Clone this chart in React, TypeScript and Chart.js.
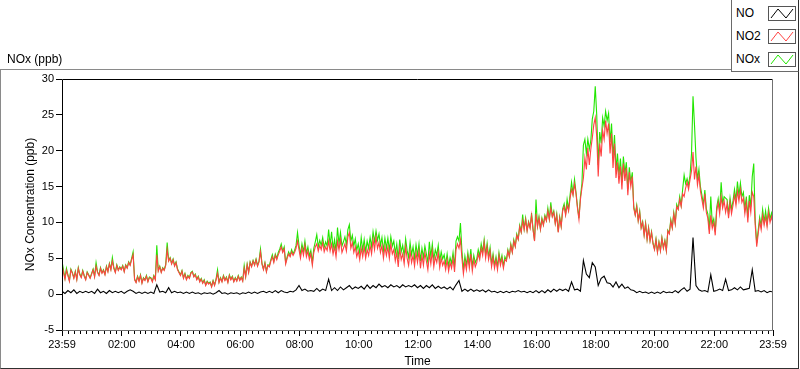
import React, { useEffect, useRef } from "react";
import { Chart, registerables } from "chart.js";

Chart.register(...registerables);

// ---- axis definitions (minutes since 23:59 of the previous day) ----
const X_TICK_MIN = [0, 121, 241, 361, 481, 601, 721, 841, 961, 1081, 1201, 1321, 1440];
const X_TICK_LABELS = ["23:59", "02:00", "04:00", "06:00", "08:00", "10:00", "12:00", "14:00", "16:00", "18:00", "20:00", "22:00", "23:59"];
const X_MINOR_STEP_MIN = 12;
const Y_MIN = -5;
const Y_MAX = 30;
const Y_STEP = 5;

// ---- NO: 6-minute samples ----
const NO_STEP_MIN = 6;
const NO_PPB = [
  0.4, 0.1, 0.5, 0.2, 0.6, 0.1, 0.4, 0.2, 0.4, 0.2,
  0.4, 0.1, 0.7, 0.2, 0.4, 0.1, 0.5, 0.2, 0.4, 0.2,
  0.4, 0.1, 0.4, 0.6, 0.4, 0.1, 0.3, 0.1, 0.3, 0.1,
  0.3, 0.1, 1.3, 0.3, 0.4, 0.2, 0.9, 0.2, 0.4, 0.2,
  0.3, 0.1, 0.3, 0.1, 0.3, 0.1, 0.2, 0.0, 0.2, 0.1,
  0.2, 0.0, 0.2, 0.5, 0.1, 0.2, 0.0, 0.2, 0.1, 0.2,
  0.0, 0.2, 0.1, 0.3, 0.1, 0.3, 0.1, 0.3, 0.4, 0.2,
  0.4, 0.2, 0.5, 0.2, 0.5, 0.3, 0.2, 0.4, 0.3, 0.6,
  1.2, 0.5, 0.7, 0.4, 0.5, 0.4, 0.8, 0.4, 0.7, 0.5,
  2.1, 0.5, 0.9, 0.5, 1.0, 0.6, 0.9, 1.2, 0.7, 1.0,
  0.8, 1.1, 0.7, 1.3, 0.8, 1.2, 0.9, 1.4, 1.0, 1.2,
  0.9, 1.3, 1.0, 1.2, 0.9, 1.3, 1.0, 1.2, 1.0, 1.3,
  0.9, 1.2, 0.8, 1.2, 0.9, 1.3, 0.8, 1.1, 0.8, 1.0,
  0.7, 1.0, 0.6, 1.3, 1.9, 0.4, 0.7, 0.4, 0.7, 0.4,
  0.6, 0.4, 0.6, 0.3, 0.6, 0.3, 0.4, 0.2, 0.4, 0.2,
  0.4, 0.2, 0.4, 0.3, 0.5, 0.3, 0.4, 0.2, 0.4, 0.2,
  0.5, 0.2, 0.5, 0.2, 0.6, 0.3, 0.7, 0.4, 0.7, 0.5,
  0.7, 0.4, 1.7, 0.6, 0.7, 0.4, 4.7, 2.8, 2.3, 4.4,
  3.8, 1.2, 2.2, 2.5, 1.6, 1.5, 1.0, 1.7, 0.9, 1.4,
  0.8, 1.0, 0.6, 0.5, 0.2, 0.4, 0.2, 0.3, 0.1, 0.3,
  0.1, 0.3, 0.1, 0.4, 0.2, 0.3, 0.2, 0.5, 0.2, 0.6,
  0.9, 0.4, 0.7, 7.9, 1.2, 0.6, 0.4, 0.5, 0.3, 2.7,
  0.4, 0.5, 0.7, 0.5, 2.1, 0.5, 0.6, 0.9, 0.6, 1.0,
  0.6, 0.7, 0.8, 3.4, 0.4, 0.5, 0.3, 0.5, 0.2, 0.4, 0.3,
];

// ---- NO2 and NOx: 3-minute samples (20 per hour) ----
const NO2_STEP_MIN = 3;
const NO2_PPB = [
  4.2, 3.0, 2.1, 3.3, 2.6, 1.8, 3.4, 2.9, 2.2, 3.1, 2.0, 3.6, 2.7, 2.3, 3.2, 2.5, 2.0, 3.0, 2.6, 2.2,
  2.8, 3.4, 2.4, 3.9, 3.0, 2.6, 3.6, 2.9, 3.3, 2.7, 3.8, 3.1, 4.2, 3.4, 4.6, 3.6, 3.0, 4.0, 3.3, 3.7,
  3.4, 3.9, 3.1, 4.0, 3.6, 4.4, 4.0, 4.8, 5.5, 2.0, 1.6, 2.4, 1.8, 2.6, 1.5, 2.2, 1.9, 2.5, 1.7, 2.3,
  2.2, 1.7, 2.5, 2.0, 5.5, 3.2, 3.8, 3.0, 3.6, 3.3, 4.0, 6.2, 4.6, 5.0, 4.2, 4.8, 3.9, 4.4, 3.4, 3.0,
  2.6, 3.2, 2.2, 2.8, 2.0, 2.5, 2.2, 2.9, 3.1, 2.4, 2.7, 2.0, 2.4, 1.7, 2.1, 1.5, 1.9, 1.2, 1.7, 1.4,
  1.6, 1.0, 1.8, 1.2, 2.0, 2.9, 1.6, 2.2, 1.7, 2.5, 1.9, 2.3, 1.6, 2.6, 2.0, 2.4, 1.7, 2.2, 1.8, 2.5,
  1.9, 2.3, 1.8, 3.6, 2.4, 4.1, 3.0, 4.4, 3.8, 4.6, 4.0, 4.8, 3.9, 4.5, 5.9, 4.2, 3.4, 4.3, 3.1, 4.0,
  3.8, 4.6, 5.2, 4.4, 5.4, 4.8, 5.5, 6.0, 6.6, 5.8, 6.3, 4.2, 5.0, 5.6, 5.2, 5.9, 5.4, 5.8, 6.4, 7.4,
  6.2, 5.0, 6.4, 5.4, 6.8, 5.2, 6.0, 4.8, 5.6, 4.0, 5.8, 6.6, 7.0, 6.0, 6.8, 6.2, 7.2, 5.9, 6.6, 6.1,
  7.4, 6.0, 7.0, 5.6, 6.6, 5.2, 7.4, 6.2, 7.6, 5.8, 6.4, 7.0, 6.0, 8.0, 8.6, 6.4, 7.2, 5.8, 6.6, 5.2,
  6.0, 4.8, 6.4, 5.2, 6.6, 5.0, 6.2, 5.4, 6.8, 5.6, 7.6, 6.2, 8.0, 6.4, 7.2, 5.8, 6.8, 5.0, 6.6, 5.4,
  6.6, 5.0, 7.0, 5.6, 6.2, 4.6, 5.8, 3.8, 6.4, 4.8, 5.6, 4.2, 6.6, 5.0, 4.0, 6.0, 4.4, 5.4, 3.9, 5.8,
  4.4, 6.0, 3.6, 5.4, 4.0, 5.8, 4.6, 3.4, 5.6, 4.2, 6.0, 3.8, 5.2, 4.4, 5.8, 3.7, 5.0, 4.0, 4.6, 3.4,
  4.8, 3.2, 4.4, 3.6, 5.0, 3.1, 6.2, 7.0, 6.4, 7.6, 5.0, 2.8, 4.6, 3.4, 5.2, 3.6, 5.6, 3.2, 4.8, 3.8,
  4.4, 5.6, 4.8, 6.4, 5.4, 7.2, 5.0, 6.6, 4.8, 6.0, 3.8, 5.2, 3.6, 4.8, 3.4, 5.4, 4.0, 5.0, 3.6, 4.8,
  4.6, 6.0, 5.2, 6.8, 5.8, 7.4, 6.6, 8.2, 7.6, 9.4, 8.6, 10.2, 9.0, 10.4, 8.8, 10.0, 9.2, 11.0, 9.0, 7.4,
  11.2, 9.4, 10.6, 9.0, 10.4, 9.6, 10.8, 10.2, 11.6, 10.4, 12.0, 10.8, 11.4, 9.8, 11.0, 8.6, 10.6, 9.4, 11.6, 12.2,
  11.0, 12.4, 11.6, 13.4, 14.6, 13.8, 15.4, 14.0, 12.0, 10.4, 13.2, 14.8, 16.2, 19.0, 17.4, 20.4, 18.0, 20.2, 21.8, 23.6,
  24.6, 22.0, 16.4, 21.0, 19.2, 22.8, 21.6, 24.2, 22.4, 23.8, 19.6, 22.4, 17.6, 21.0, 16.2, 18.4, 15.4, 17.8, 14.6, 18.2,
  15.8, 17.6, 13.8, 17.0, 15.0, 16.4, 12.0, 11.0, 12.2, 10.2, 11.4, 9.2, 10.0, 8.2, 9.8, 7.6, 9.2, 7.4, 8.6, 7.0,
  6.2, 7.6, 5.8, 7.2, 6.0, 7.8, 6.4, 7.4, 6.0, 8.8, 8.4, 10.2, 9.2, 11.2, 9.8, 12.2, 11.8, 13.2, 12.2, 14.0,
  13.6, 14.8, 15.6, 14.6, 16.0, 17.2, 19.8, 16.0, 17.8, 15.2, 16.6, 14.4, 13.2, 12.0, 14.0, 11.4, 10.6, 8.4, 11.0, 9.2,
  10.0, 8.2, 11.6, 12.8, 11.2, 13.6, 12.0, 13.0, 11.4, 12.6, 10.6, 12.8, 11.2, 12.4, 13.8, 12.4, 14.4, 13.0, 14.6, 12.8,
  13.4, 11.2, 12.8, 10.0, 13.0, 11.4, 14.2, 13.6, 9.6, 6.6, 8.4, 10.2, 9.0, 11.0, 9.6, 10.8, 9.4, 11.4, 10.0, 10.8, 9.8,
];

const NOX_STEP_MIN = 3;
const NOX_PPB = [
  4.6, 3.4, 2.2, 3.6, 2.7, 1.9, 3.5, 3.0, 2.3, 3.2, 2.1, 3.7, 2.8, 2.4, 3.3, 2.6, 2.1, 3.1, 2.7, 2.3,
  2.9, 3.5, 2.5, 4.4, 3.1, 2.7, 3.7, 3.0, 3.4, 2.8, 3.9, 3.2, 4.3, 3.5, 5.1, 3.7, 3.1, 4.1, 3.4, 3.8,
  3.5, 4.0, 3.2, 4.1, 3.7, 4.5, 4.1, 5.0, 5.9, 2.1, 1.7, 2.5, 1.9, 2.7, 1.6, 2.3, 2.0, 2.6, 1.8, 2.4,
  2.3, 1.8, 2.6, 2.1, 6.8, 3.3, 3.9, 3.1, 3.7, 3.4, 4.1, 7.2, 4.7, 5.1, 4.3, 4.9, 4.0, 4.5, 3.5, 3.1,
  2.7, 3.3, 2.3, 2.9, 2.1, 2.6, 2.3, 3.0, 3.2, 2.5, 2.8, 2.1, 2.5, 1.8, 2.2, 1.6, 2.0, 1.3, 1.8, 1.5,
  1.7, 1.1, 1.9, 1.3, 2.1, 3.4, 1.7, 2.3, 1.8, 2.6, 2.0, 2.4, 1.7, 2.7, 2.1, 2.5, 1.8, 2.3, 1.9, 2.6,
  2.0, 2.4, 1.9, 4.0, 2.5, 4.2, 3.1, 4.5, 3.9, 4.7, 4.1, 4.9, 4.0, 4.6, 6.3, 4.3, 3.5, 4.4, 3.2, 4.1,
  4.0, 4.8, 5.5, 4.6, 5.6, 5.0, 5.8, 6.3, 7.0, 6.0, 6.6, 4.4, 5.2, 5.9, 5.4, 6.2, 5.6, 6.1, 6.8, 8.6,
  6.8, 5.5, 7.0, 5.9, 7.4, 5.7, 6.6, 5.3, 6.1, 4.4, 6.4, 7.3, 8.3, 6.6, 7.5, 6.8, 7.9, 6.5, 7.3, 6.7,
  9.0, 6.8, 8.7, 6.3, 7.6, 6.0, 9.3, 7.0, 8.6, 6.7, 7.3, 8.0, 6.9, 9.0, 9.7, 7.4, 8.2, 6.7, 7.7, 6.1,
  7.0, 5.7, 7.9, 6.1, 7.6, 5.9, 7.4, 6.4, 7.9, 6.6, 8.7, 7.3, 8.8, 7.5, 8.4, 6.8, 7.9, 6.0, 7.8, 6.4,
  7.8, 6.1, 8.0, 6.7, 7.4, 5.7, 7.0, 4.9, 7.6, 5.9, 6.8, 5.3, 7.7, 6.1, 5.1, 7.2, 5.5, 6.6, 5.0, 6.9,
  5.4, 7.0, 4.6, 6.4, 5.1, 6.7, 5.6, 4.4, 7.3, 5.2, 7.0, 4.8, 6.2, 5.4, 6.8, 4.6, 5.9, 4.9, 5.5, 4.2,
  5.6, 3.9, 5.1, 4.3, 5.8, 3.8, 7.4, 8.0, 7.4, 9.9, 6.0, 3.4, 5.3, 4.0, 5.8, 4.2, 6.3, 3.8, 5.4, 4.4,
  4.9, 6.2, 5.3, 7.0, 5.9, 7.6, 5.5, 7.1, 5.2, 6.5, 4.2, 5.6, 4.0, 5.2, 3.8, 5.8, 4.4, 5.4, 3.9, 5.2,
  4.7, 6.2, 5.3, 7.0, 5.9, 7.6, 6.7, 8.4, 7.7, 9.6, 8.7, 11.1, 9.1, 10.6, 8.9, 10.1, 9.3, 11.3, 9.1, 7.5,
  13.2, 9.5, 10.8, 9.1, 10.6, 9.7, 11.0, 10.3, 12.0, 10.5, 12.8, 10.9, 11.6, 9.9, 11.2, 8.7, 10.8, 9.5, 11.9, 12.6,
  11.2, 13.2, 11.8, 13.8, 15.6, 14.0, 16.0, 14.2, 12.2, 10.6, 13.6, 15.4, 20.8, 21.6, 19.6, 21.6, 20.2, 21.4, 24.4, 25.5,
  29.0, 25.0, 18.0, 22.6, 21.0, 24.6, 23.4, 25.5, 24.2, 25.2, 21.2, 23.8, 19.0, 22.2, 17.4, 19.6, 16.6, 18.9, 15.6, 19.2,
  16.8, 18.4, 14.6, 17.7, 15.6, 17.0, 12.2, 11.1, 12.4, 10.3, 11.6, 9.3, 10.1, 8.3, 9.9, 7.7, 9.3, 7.5, 8.7, 7.1,
  6.3, 7.7, 5.9, 7.3, 6.1, 7.9, 6.5, 7.5, 6.1, 8.9, 8.5, 10.4, 9.3, 11.4, 9.9, 12.5, 11.9, 13.6, 12.4, 14.6,
  16.6, 15.4, 16.1, 15.2, 16.6, 19.6, 27.6, 23.6, 19.0, 16.0, 17.4, 15.0, 13.8, 12.5, 14.5, 11.9, 11.2, 9.0, 13.6, 9.8,
  10.5, 8.7, 12.1, 13.3, 11.7, 15.6, 12.6, 13.6, 13.4, 13.2, 11.1, 13.4, 11.8, 13.0, 14.6, 13.1, 15.7, 13.7, 15.5, 13.6,
  14.2, 11.9, 13.6, 10.7, 13.8, 12.2, 16.4, 18.2, 10.2, 7.1, 8.9, 10.7, 9.5, 11.8, 10.1, 11.6, 9.9, 12.0, 10.5, 11.3, 10.2,
];

const SERIES = [
  { label: "NO", values: NO_PPB, step: NO_STEP_MIN, color: "#000000" },
  { label: "NO2", values: NO2_PPB, step: NO2_STEP_MIN, color: "#ff4242" },
  { label: "NOx", values: NOX_PPB, step: NOX_STEP_MIN, color: "#22e600" },
];

const FONT = '"Liberation Sans", Arial, sans-serif';

const labviewFrame = {
  id: "labviewFrame",
  afterDraw(chart: any) {
    const { ctx, chartArea: a, scales } = chart;
    const xs = scales.x;
    ctx.save();
    ctx.lineWidth = 1;
    // minor ticks on the time axis
    ctx.strokeStyle = "#000";
    ctx.beginPath();
    for (let m = X_TICK_MIN[0] + 1 + X_MINOR_STEP_MIN; m < X_TICK_MIN[X_TICK_MIN.length - 1]; m += X_MINOR_STEP_MIN) {
      if (X_TICK_MIN.includes(m)) continue;
      const px = Math.round(xs.getPixelForValue(m)) + 0.5;
      ctx.moveTo(px, a.bottom);
      ctx.lineTo(px, a.bottom + 4);
    }
    ctx.stroke();
    // plot frame
    const l = Math.round(a.left) + 0.5;
    const r = Math.round(a.right) - 0.5;
    const t = Math.round(a.top) + 0.5;
    const b = Math.round(a.bottom) + 0.5;
    ctx.strokeStyle = "#000";
    ctx.beginPath();
    ctx.moveTo(l, b);
    ctx.lineTo(l, t);
    ctx.lineTo(r, t);
    ctx.stroke();
    ctx.strokeStyle = "#707070";
    ctx.beginPath();
    ctx.moveTo(r, t);
    ctx.lineTo(r, b);
    ctx.lineTo(l, b);
    ctx.stroke();
    ctx.restore();
  },
};

function Swatch({ color }: { color: string }) {
  return (
    <svg width={28} height={15} style={{ display: "block" }}>
      <rect x={0.5} y={0.5} width={27} height={14} fill="#fff" stroke="#555" />
      <polyline points="3,12 10,3 18,12 25,3" fill="none" stroke={color} strokeWidth={1} />
    </svg>
  );
}

export default function App() {
  const canvasRef = useRef<HTMLCanvasElement | null>(null);

  useEffect(() => {
    const canvas = canvasRef.current;
    if (!canvas) return;
    const chart = new Chart(canvas, {
      type: "line",
      data: {
        datasets: SERIES.map((s) => ({
          label: s.label,
          data: s.values.map((y, i) => ({ x: i * s.step, y })),
          borderColor: s.color,
          backgroundColor: s.color,
          borderWidth: 1.1,
          pointRadius: 0,
          tension: 0,
          fill: false,
        })),
      },
      options: {
        responsive: false,
        animation: false,
        devicePixelRatio: 1,
        layout: { padding: { top: 79, right: 27, bottom: 0, left: 0 } },
        plugins: { legend: { display: false }, title: { display: false }, tooltip: { enabled: false } },
        scales: {
          x: {
            type: "linear",
            min: X_TICK_MIN[0],
            max: X_TICK_MIN[X_TICK_MIN.length - 1],
            afterBuildTicks: (scale: any) => {
              scale.ticks = X_TICK_MIN.map((v) => ({ value: v }));
            },
            afterFit: (scale: any) => {
              scale.height = 39;
            },
            ticks: {
              autoSkip: false,
              maxRotation: 0,
              minRotation: 0,
              padding: 2,
              color: "#000",
              font: { family: FONT, size: 11 },
              callback: (_v: any, i: number) => X_TICK_LABELS[i],
            },
            grid: { drawOnChartArea: false, drawTicks: true, tickLength: 6, color: "#000" },
            border: { display: false },
            title: { display: true, text: "Time", color: "#000", font: { family: FONT, size: 12 }, padding: { top: 0, bottom: 0 } },
          },
          y: {
            type: "linear",
            min: Y_MIN,
            max: Y_MAX,
            afterFit: (scale: any) => {
              scale.width = 62;
            },
            ticks: {
              stepSize: Y_STEP,
              padding: 2,
              color: "#000",
              font: { family: FONT, size: 11 },
            },
            grid: { drawOnChartArea: false, drawTicks: true, tickLength: 6, color: "#000" },
            border: { display: false },
            title: { display: true, text: "NOx Concentration (ppb)", color: "#000", font: { family: FONT, size: 12 }, padding: { top: 23, bottom: 0 } },
          },
        },
      },
      plugins: [labviewFrame],
    });
    return () => chart.destroy();
  }, []);

  return (
    <div style={{ position: "absolute", left: 0, top: 0, width: 800, height: 369, background: "#fff", overflow: "hidden", fontFamily: FONT }}>
      <div
        style={{
          position: "absolute",
          left: 0,
          top: 69,
          width: 797,
          height: 298,
          borderTop: "1px solid #8a8a8a",
          borderLeft: "1px solid #8a8a8a",
          borderRight: "1px solid #303030",
          borderBottom: "1px solid #303030",
        }}
      />
      <canvas ref={canvasRef} width={800} height={369} style={{ position: "absolute", left: 0, top: 0, width: 800, height: 369 }} />
      <div style={{ position: "absolute", left: 7, top: 52, fontSize: 12, lineHeight: "14px", color: "#000" }}>NOx (ppb)</div>
      <div
        style={{
          position: "absolute",
          left: 731,
          top: 0,
          width: 66,
          height: 71,
          background: "#fff",
          borderLeft: "1px solid #6a6a6a",
          borderBottom: "1px solid #6a6a6a",
          borderRight: "1px solid #303030",
        }}
      >
        {SERIES.map((s, i) => (
          <div key={s.label} style={{ position: "absolute", left: 4, top: 6 + i * 23, height: 15, width: 62 }}>
            <span style={{ position: "absolute", left: 0, top: 0, fontSize: 12, lineHeight: "15px", color: "#000" }}>{s.label}</span>
            <div style={{ position: "absolute", left: 32, top: 0 }}>
              <Swatch color={s.color} />
            </div>
          </div>
        ))}
      </div>
    </div>
  );
}
